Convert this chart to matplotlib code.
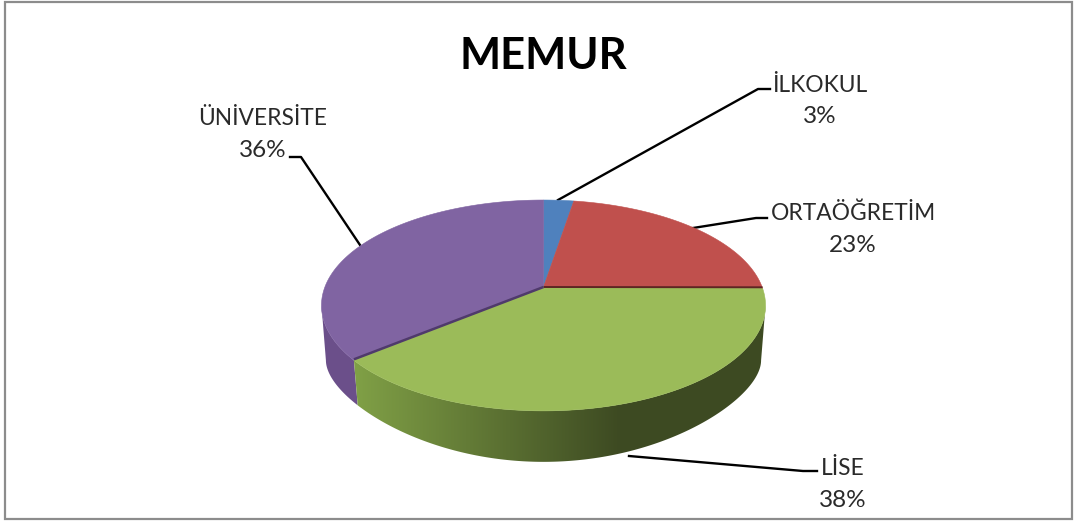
import numpy as np
import matplotlib
matplotlib.use('Agg')
import matplotlib.pyplot as plt
from matplotlib.patches import Polygon, Rectangle

plt.rcParams['font.family'] = ['Lato', 'DejaVu Sans']

title = 'MEMUR'
categories = ['İLKOKUL', 'ORTAÖĞRETİM', 'LİSE', 'ÜNİVERSİTE']
percent_labels = ['3%', '23%', '38%', '36%']
shares = [2.6, 22.6, 38.8, 36.0]
top_colors = ['#4F81BD', '#C0504D', '#9BBB59', '#8064A2']

# pie shape in pixels
cx, cy = 543.5, 287
a, b, k = 218.6, 102.2, 0.175


def top_rim(theta):
    u, v = np.sin(theta), np.cos(theta)
    d = 1 + k * v
    return cx + a * u / d, cy - b * v / d


def low_rim(theta):
    x, y = top_rim(theta)
    dy = y - cy
    return cx + (x - cx) * 0.98, cy + 73 + 0.818 * (dy - 18) + 0.00283 * (dy - 18) * (dy - 73)


def wall_points(t0, t1):
    ths = np.linspace(t0, t1, 300)
    xt, yt = top_rim(ths)
    xl, yl = low_rim(ths[::-1])
    return list(zip(xt, yt)) + list(zip(xl, yl))


fig = plt.figure(figsize=(10.76, 5.24), dpi=100)
ax = fig.add_axes([0, 0, 1, 1])
ax.set_xlim(0, 1076)
ax.set_ylim(524, 0)
ax.axis('off')

ax.add_patch(Rectangle((5, 1.5), 1067, 517.5, fc='white', ec='#8c8c8c', lw=1.6))

edges = np.cumsum([0] + shares) / 100 * 2 * np.pi

# where the top rim turns back, walls stop there
all_th = np.linspace(0, 2 * np.pi, 2000)
rim_x = top_rim(all_th)[0]
th_right = all_th[np.argmax(rim_x)]
th_left = all_th[np.argmin(rim_x)]

# purple wall, plain colour
ax.add_patch(Polygon(wall_points(edges[3], th_left), fc='#6b4f8a', ec='none', zorder=2))

# green wall with left to right shading
green_wall = Polygon(wall_points(th_right, edges[3]), fc='none', ec='none', transform=ax.transData)
ax.add_patch(green_wall)
grad_x = np.clip((np.arange(300, 800) - 355) / 265, 0, 1)[None, :, None]
grad = (np.array([128, 160, 70]) + (np.array([61, 74, 34]) - np.array([128, 160, 70])) * grad_x) / 255
img = ax.imshow(grad, extent=(300, 800, 480, 280), aspect='auto', zorder=2)
img.set_clip_path(green_wall)
ax.set_xlim(0, 1076)
ax.set_ylim(524, 0)

# top faces
for i in [0, 1, 3, 2]:
    ths = np.linspace(edges[i], edges[i + 1], 200)
    xs, ys = top_rim(ths)
    pts = [(cx, cy)] + list(zip(xs, ys))
    ax.add_patch(Polygon(pts, fc=top_colors[i], ec=top_colors[i], lw=0.4, zorder=3))

# dark seams on the slice cuts facing the viewer
for i, col, lw in [(2, '#5e2523', 1.4), (3, '#4f3a6b', 1.8)]:
    x, y = top_rim(edges[i])
    ax.plot([cx, x], [cy, y - 1], color=col, lw=lw, zorder=4, solid_capstyle='butt')

# leader lines
leaders = [
    ([558, 758, 770], [200, 89, 89]),
    ([693, 756, 767], [228, 218, 218]),
    ([629, 803, 817], [456, 471, 471]),
    ([360, 301, 290], [245, 157, 157]),
]
for lx, ly in leaders:
    ax.plot(lx, ly, color='black', lw=1.7, zorder=1, solid_joinstyle='round')

ax.text(543, 69, title, fontsize=31.3, fontweight='bold', color='black', ha='center', va='baseline')

label_pos = [(820, 92, 123), (853, 220, 252), (843, 475, 507), (263, 125, 157)]
for name, pct, (lx, y1, y2) in zip(categories, percent_labels, label_pos):
    ax.text(lx, y1, name, fontsize=16.4, color='#2a2a2a', ha='center', va='baseline')
    ax.text(lx, y2, pct, fontsize=17.5, color='#2a2a2a', ha='center', va='baseline')

fig.savefig('out.png', dpi=100)
